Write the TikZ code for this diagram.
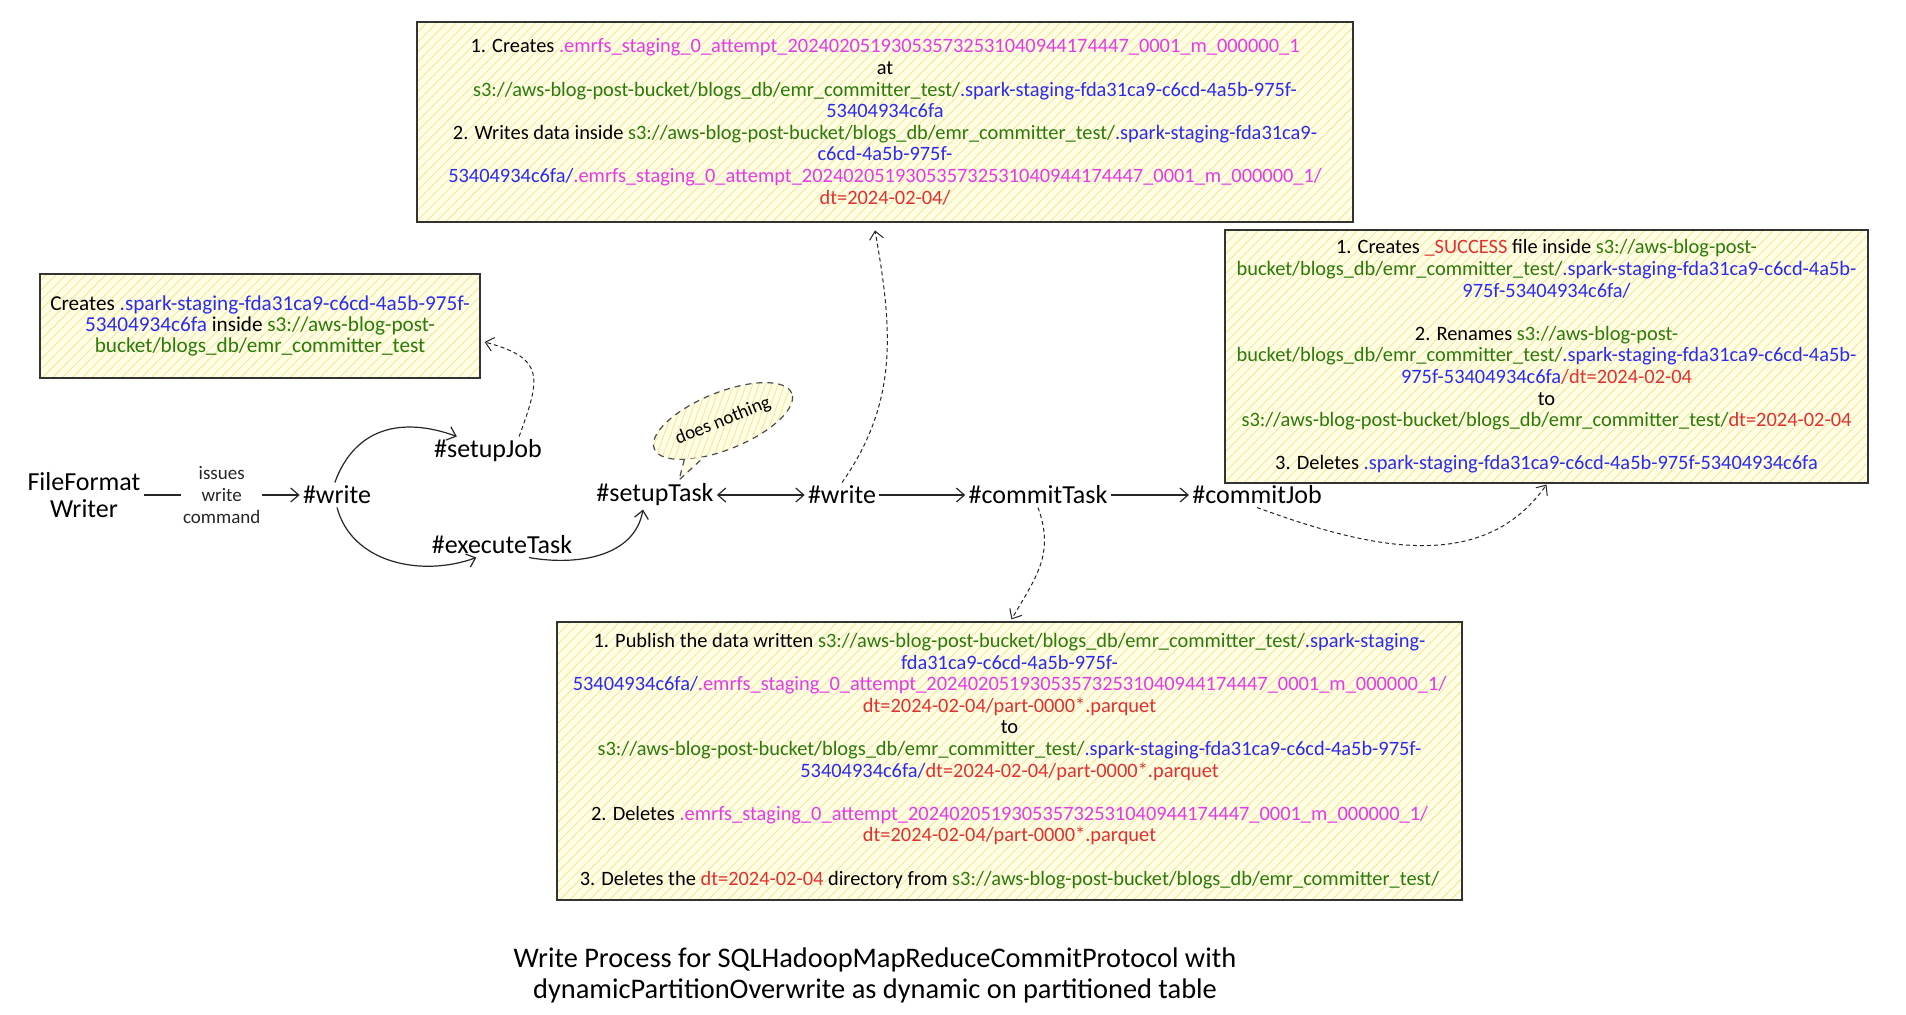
\documentclass[tikz,border=0pt]{standalone}
\usepackage{fontspec}
\setmainfont{Carlito}
\usetikzlibrary{arrows.meta,shapes.geometric,patterns.meta,calc}
\definecolor{cgreen}{HTML}{2B7A0B}
\definecolor{cblue}{HTML}{2B2BF0}
\definecolor{cmag}{HTML}{E53AE5}
\definecolor{cred}{HTML}{E03131}
\definecolor{boxbg}{HTML}{FFFDE3}
\definecolor{hatchc}{HTML}{F1E79A}
\newcommand\cG[1]{\textcolor{cgreen}{#1}}
\newcommand\cB[1]{\textcolor{cblue}{#1}}
\newcommand\cM[1]{\textcolor{cmag}{#1}}
\newcommand\cR[1]{\textcolor{cred}{#1}}
\newcommand\sthreepath{s3://aws-blog-post-bucket/blogs\_db/emr\_committer\_test/}
\newcommand\emrfsname{.emrfs\_staging\_0\_attempt\_202402051930535732531040944174447\_0001\_m\_000000\_1}
\newcommand\boxfont{\fontsize{10.2}{10.8}\selectfont}
\newcommand\leftboxfont{\fontsize{10.6}{10.7}\selectfont}
\tikzset{
  infobox/.style={draw=black!80, line width=0.6pt, preaction={fill=boxbg},
    pattern={Lines[angle=45,distance=3.5pt,line width=0.4pt]}, pattern color=hatchc,
    inner sep=0pt, align=center, font=\boxfont},
  mainnode/.style={font=\fontsize{13}{13.5}\selectfont, inner sep=1.5pt, align=center},
  lbl/.style={fill=white, align=center, font=\fontsize{9.5}{11}\selectfont, inner sep=1pt},
  arr/.style={-{Straight Barb[length=4pt,width=7pt]}, line width=0.6pt, black!85},
  biarr/.style={{Straight Barb[length=4pt,width=7pt]}-{Straight Barb[length=4pt,width=7pt]}, line width=0.6pt, black!85},
  dasharr/.style={-{Straight Barb[length=4pt,width=7pt]}, line width=0.5pt, black!85, dash pattern=on 2pt off 1.5pt},
  bubble/.style={ellipse, draw=black!70, line width=0.6pt, dash pattern=on 3pt off 2.5pt,
    preaction={fill=boxbg}, pattern={Lines[angle=70,distance=3pt,line width=0.4pt]}, pattern color=hatchc,
    inner xsep=1pt, inner ysep=6pt, font=\fontsize{9.5}{11}\selectfont},
  tailstyle/.style={draw=black!70, line width=0.6pt, dash pattern=on 3pt off 2.5pt, fill=boxbg},
  titlenode/.style={font=\fontsize{14.2}{15.5}\selectfont, align=center}
}
\begin{document}
\begin{tikzpicture}[x=0.5pt,y=0.5pt]
\fill[white] (0,0) rectangle (1906,-1014);
\useasboundingbox (0,0) rectangle (1906,-1014);

% info boxes
\node[infobox, minimum width=468pt, minimum height=100pt] (topbox) at (885,-122) {%
1. Creates \cM{\emrfsname}\\
at\\
\cG{\sthreepath}\cB{.spark-staging-fda31ca9-c6cd-4a5b-975f-}\\
\cB{53404934c6fa}\\
2. Writes data inside \cG{\sthreepath}\cB{.spark-staging-fda31ca9-}\\
\cB{c6cd-4a5b-975f-}\\
\cB{53404934c6fa/}\cM{\emrfsname/}\\
\cR{dt=2024-02-04/}};

\node[infobox, font=\leftboxfont, minimum width=220pt, minimum height=52pt] (leftbox) at (260,-326) {%
Creates \cB{.spark-staging-fda31ca9-c6cd-4a5b-975f-}\\
\cB{53404934c6fa} inside \cG{s3://aws-blog-post-}\\
\cG{bucket/blogs\_db/emr\_committer\_test}};

\node[infobox, minimum width=321.5pt, minimum height=126.5pt] (rightbox) at (1546.5,-356.5) {%
1. Creates \cR{\_SUCCESS} file inside \cG{s3://aws-blog-post-}\\
\cG{bucket/blogs\_db/emr\_committer\_test/}\cB{.spark-staging-fda31ca9-c6cd-4a5b-}\\
\cB{975f-53404934c6fa/}\\[10.8pt]
2. Renames \cG{s3://aws-blog-post-}\\
\cG{bucket/blogs\_db/emr\_committer\_test/}\cB{.spark-staging-fda31ca9-c6cd-4a5b-}\\
\cB{975f-53404934c6fa}\cR{/dt=2024-02-04}\\
to\\
\cG{\sthreepath}\cR{dt=2024-02-04}\\[10.8pt]
3. Deletes \cB{.spark-staging-fda31ca9-c6cd-4a5b-975f-53404934c6fa}};

\node[infobox, minimum width=452.5pt, minimum height=139pt] (botbox) at (1009.5,-761) {%
1. Publish the data written \cG{\sthreepath}\cB{.spark-staging-}\\
\cB{fda31ca9-c6cd-4a5b-975f-}\\
\cB{53404934c6fa/}\cM{\emrfsname/}\\
\cR{dt=2024-02-04/part-0000*.parquet}\\
to\\
\cG{\sthreepath}\cB{.spark-staging-fda31ca9-c6cd-4a5b-975f-}\\
\cB{53404934c6fa/}\cR{dt=2024-02-04/part-0000*.parquet}\\[10.8pt]
2. Deletes \cM{\emrfsname/}\\
\cR{dt=2024-02-04/part-0000*.parquet}\\[10.8pt]
3. Deletes the \cR{dt=2024-02-04} directory from \cG{\sthreepath}};

% main flow nodes
\node[mainnode] (ffw) at (84,-495) {FileFormat\\Writer};
\node[mainnode] (write1) at (337,-495) {\#write};
\node[mainnode] (setupJob) at (488,-451) {\#setupJob};
\node[mainnode] (executeTask) at (502,-545) {\#executeTask};
\node[mainnode] (setupTask) at (655,-495) {\#setupTask};
\node[mainnode] (write2) at (842,-495) {\#write};
\node[mainnode] (commitTask) at (1038,-495) {\#commitTask};
\node[mainnode] (commitJob) at (1257,-495) {\#commitJob};

% bubble
\node[bubble, rotate=22] (bub) at (723,-421) {does nothing};
\coordinate (bubtip) at (679,-480);
\path[tailstyle] (bub.203) -- (bubtip) -- (bub.220);

% solid connectors
\draw[arr] (ffw) -- node[lbl] (issuelbl) {issues\\write\\command} (write1);
\draw[arr] (write1.100) to[out=70,in=160,looseness=1.15] (setupJob.155);
\draw[arr] (write1.south) to[out=-75,in=200] (executeTask.206);
\draw[arr] (executeTask.-25) to[out=-10,in=-100] ($(setupTask.south)+(-12,0)$);
\draw[biarr] (setupTask) -- (write2);
\draw[arr] (write2) -- (commitTask);
\draw[arr] (commitTask) -- (commitJob);

% dashed connectors
\draw[dasharr] (setupJob.25) to[out=70,in=-15,looseness=1.6] ($(leftbox.east)+(4,-16)$);
\draw[dasharr] (write2.north) to[out=55,in=-80] ($(topbox.south)+(-10,-8)$);
\draw[dasharr] (commitTask.south) to[out=-70,in=60,looseness=1.1] ($(botbox.north)+(2,2)$);
\draw[dasharr] (commitJob.south) to[out=-20,in=-125] ($(rightbox.south)+(0,-1)$);

% title
\node[titlenode] (title) at (875,-975) {Write Process for SQLHadoopMapReduceCommitProtocol with\\dynamicPartitionOverwrite as dynamic on partitioned table};
\end{tikzpicture}
\end{document}
